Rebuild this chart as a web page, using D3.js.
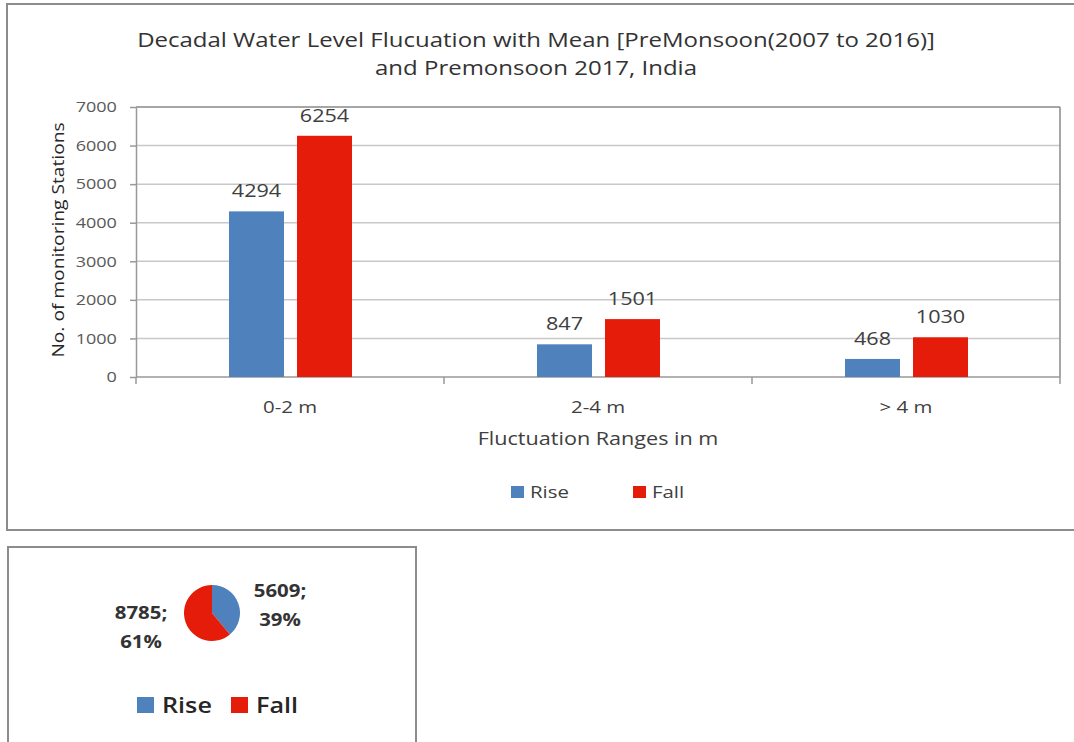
<!DOCTYPE html>
<html>
<head>
<meta charset="utf-8">
<script src="https://cdn.jsdelivr.net/npm/d3@7"></script>
<style>
  body { margin: 0; background: #fff; }
  svg text { font-family: "Open Sans", sans-serif; }
</style>
</head>
<body>
<svg id="chart" width="1074" height="742"></svg>
<script>
const categories = ['0-2 m', '2-4 m', '> 4 m']
const series = ['Rise', 'Fall']
const riseValues = [4294, 847, 468]
const fallValues = [6254, 1501, 1030]
const yTicks = [0, 1000, 2000, 3000, 4000, 5000, 6000, 7000]
const pieLabels = ['5609;', '39%', '8785;', '61%']
const pieValues = [5609, 8785]

const colors = { Rise: '#4f81bd', Fall: '#e61c0a' }
// the reference text is a bit wider than Open Sans, so stretch it sideways
const SX = 1.2

const svg = d3.select('#chart')

const putText = (parent, x, y, str, size, opts = {}) => parent.append('text')
  .attr('transform', `translate(${x} ${y})${opts.rotate ? ' rotate(-90)' : ''} scale(${SX} 1)`)
  .attr('text-anchor', opts.anchor || 'middle')
  .attr('font-size', size)
  .attr('font-weight', opts.weight || 'normal')
  .attr('fill', opts.fill || '#404040')
  .text(str)

// TOP CHART FRAME
svg.append('rect')
  .attr('x', 7).attr('y', 4)
  .attr('width', 1080).attr('height', 526)
  .attr('fill', 'none').attr('stroke', '#8c8c8c').attr('stroke-width', 2)

putText(svg, 536, 47, 'Decadal Water Level Flucuation with Mean [PreMonsoon(2007 to 2016)]', 20, { fill: '#333' })
putText(svg, 536, 75, 'and Premonsoon 2017, India', 20, { fill: '#333' })

const plot = { left: 136, right: 1060, top: 107, bottom: 377 }

const x = d3.scaleBand()
  .domain(categories)
  .range([plot.left, plot.right])

const y = d3.scaleLinear()
  .domain([0, 7000])
  .range([plot.bottom, plot.top])

// GRID
svg.append('g')
  .selectAll('line')
  .data(yTicks.slice(1))
  .enter().append('line')
  .attr('x1', plot.left).attr('x2', plot.right)
  .attr('y1', d => y(d)).attr('y2', d => y(d))
  .attr('stroke', d => d === 7000 ? '#888' : '#c8c8c8')
  .attr('stroke-width', 1.5)

svg.append('line')
  .attr('x1', plot.right).attr('x2', plot.right)
  .attr('y1', plot.top).attr('y2', plot.bottom)
  .attr('stroke', '#888').attr('stroke-width', 1.5)

// Y-AXIS
const yAxis = d3.axisLeft(y)
  .tickValues(yTicks)
  .tickFormat(d3.format('d'))
  .tickSizeInner(6)
  .tickSizeOuter(0)
  .tickPadding(10)

const yg = svg.append('g')
  .attr('transform', `translate(${plot.left} 0)`)
  .call(yAxis)
yg.select('.domain').attr('stroke', '#999').attr('stroke-width', 1.5)
yg.selectAll('.tick line').attr('stroke', '#999').attr('stroke-width', 1.5)
yg.selectAll('.tick text')
  .attr('font-size', 15).attr('fill', '#595959')
  .attr('font-family', '"Open Sans", sans-serif')
  .attr('transform', `scale(${SX} 1)`)

putText(svg, 64, (plot.top + plot.bottom) / 2 - 2, 'No. of monitoring Stations', 16, { rotate: true, fill: '#262626' })

// X-AXIS
const xg = svg.append('g')
  .attr('transform', `translate(0 ${plot.bottom})`)
xg.append('line')
  .attr('x1', plot.left).attr('x2', plot.right)
  .attr('stroke', '#999').attr('stroke-width', 1.5)
xg.selectAll('.xtick')
  .data(categories.concat(['end']))
  .enter().append('line')
  .attr('x1', (d, i) => plot.left + i * x.bandwidth())
  .attr('x2', (d, i) => plot.left + i * x.bandwidth())
  .attr('y1', 0).attr('y2', 7)
  .attr('stroke', '#999').attr('stroke-width', 1.5)
categories.forEach(c => putText(xg, x(c) + x.bandwidth() / 2, 36, c, 17))

putText(svg, 598, 445, 'Fluctuation Ranges in m', 18)

// BARS
const xSeries = d3.scaleOrdinal().domain(series).range([-61, 7])
const barWidth = 55
const barData = categories.flatMap((c, i) => [
  { cat: c, s: 'Rise', v: riseValues[i] },
  { cat: c, s: 'Fall', v: fallValues[i] }
])

const bars = svg.append('g')
bars.selectAll('rect')
  .data(barData)
  .enter().append('rect')
  .attr('x', d => x(d.cat) + x.bandwidth() / 2 + xSeries(d.s))
  .attr('y', d => y(d.v))
  .attr('width', barWidth)
  .attr('height', d => y(0) - y(d.v))
  .attr('fill', d => colors[d.s])

barData.forEach(d => putText(bars,
  x(d.cat) + x.bandwidth() / 2 + xSeries(d.s) + barWidth / 2,
  y(d.v) - 14, d.v, 18))

// LEGEND
const legend = svg.append('g')
const legendX = [511, 633]
series.forEach((s, i) => {
  legend.append('rect')
    .attr('x', legendX[i]).attr('y', 486)
    .attr('width', 13).attr('height', 12)
    .attr('fill', colors[s])
  putText(legend, legendX[i] + 19, 498, s, 17, { anchor: 'start' })
})

// PIE FRAME
svg.append('rect')
  .attr('x', 8).attr('y', 547)
  .attr('width', 408).attr('height', 220)
  .attr('fill', 'none').attr('stroke', '#8c8c8c').attr('stroke-width', 2)

const pie = d3.pie().sort(null)
const arc = d3.arc().innerRadius(0).outerRadius(28)

svg.append('g')
  .attr('transform', 'translate(212 613)')
  .selectAll('path')
  .data(pie(pieValues))
  .enter().append('path')
  .attr('d', arc)
  .attr('fill', (d, i) => colors[series[i]])

const pieLabelPos = [[280, 597], [280, 626], [141, 619], [141, 648]]
const pieG = svg.append('g')
pieLabels.forEach((d, i) => putText(pieG, pieLabelPos[i][0], pieLabelPos[i][1], d, 17, { weight: 'bold', fill: '#333' }))

const pieLegendX = [137, 231]
series.forEach((s, i) => {
  svg.append('rect')
    .attr('x', pieLegendX[i]).attr('y', 697)
    .attr('width', 17).attr('height', 16)
    .attr('fill', colors[s])
  putText(svg, pieLegendX[i] + 25, 713, s, 21, { anchor: 'start', weight: 600, fill: '#262626' })
})
</script>
</body>
</html>
